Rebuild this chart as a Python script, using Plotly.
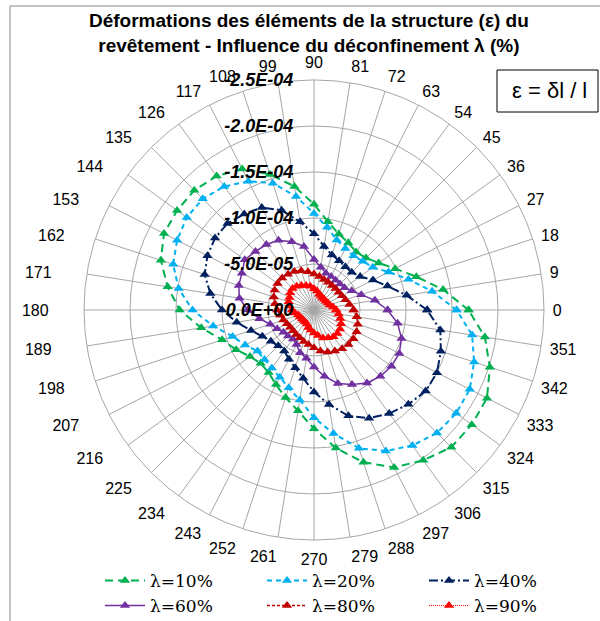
import math
import plotly.graph_objects as go

# Angular categories (degrees) and their labels
angles = [0, 9, 18, 27, 36, 45, 54, 63, 72, 81, 90, 99, 108, 117, 126, 135, 144, 153, 162, 171,
          180, 189, 198, 207, 216, 225, 234, 243, 252, 261, 270, 279, 288, 297, 306, 315, 324, 333, 342, 351]

# Strain values (epsilon) per angle, one list per deconfinement rate
eps_10 = [-168e-6, -142e-6, -117e-6, -99e-6, -87e-6, -80e-6, -78e-6, -82e-6, -87e-6, -97e-6,
          -115e-6, -136e-6, -155e-6, -172e-6, -180e-6, -184e-6, -184e-6, -183e-6, -175e-6, -161e-6,
          -146e-6, -124e-6, -105e-6, -95e-6, -86e-6, -82e-6, -84e-6, -91e-6, -100e-6, -111e-6,
          -129e-6, -152e-6, -174e-6, -192e-6, -202e-6, -211e-6, -212e-6, -211e-6, -201e-6, -188e-6]
eps_20 = [-155e-6, -130e-6, -108e-6, -91e-6, -79e-6, -75e-6, -73e-6, -75e-6, -80e-6, -91e-6,
          -105e-6, -125e-6, -145e-6, -157e-6, -166e-6, -171e-6, -171e-6, -167e-6, -161e-6, -149e-6,
          -132e-6, -111e-6, -93e-6, -84e-6, -76e-6, -76e-6, -78e-6, -82e-6, -89e-6, -99e-6,
          -117e-6, -136e-6, -158e-6, -172e-6, -182e-6, -189e-6, -191e-6, -190e-6, -183e-6, -174e-6]
eps_40 = [-123e-6, -102e-6, -84e-6, -72e-6, -62e-6, -58e-6, -58e-6, -60e-6, -63e-6, -70e-6,
          -83e-6, -97e-6, -114e-6, -125e-6, -129e-6, -133e-6, -133e-6, -130e-6, -125e-6, -114e-6,
          -100e-6, -85e-6, -72e-6, -63e-6, -58e-6, -55e-6, -55e-6, -60e-6, -66e-6, -75e-6,
          -89e-6, -104e-6, -121e-6, -132e-6, -139e-6, -145e-6, -150e-6, -150e-6, -145e-6, -139e-6]
eps_60 = [-80e-6, -67e-6, -54e-6, -46e-6, -41e-6, -40e-6, -40e-6, -41e-6, -42e-6, -47e-6,
          -55e-6, -70e-6, -78e-6, -85e-6, -88e-6, -90e-6, -93e-6, -88e-6, -86e-6, -82e-6,
          -72e-6, -60e-6, -50e-6, -45e-6, -41e-6, -40e-6, -39e-6, -42e-6, -49e-6, -53e-6,
          -62e-6, -73e-6, -84e-6, -91e-6, -98e-6, -102e-6, -104e-6, -104e-6, -100e-6, -92e-6]
eps_80 = [-43e-6, -39e-6, -36e-6, -34e-6, -33e-6, -33e-6, -33e-6, -34e-6, -35e-6, -37e-6,
          -39e-6, -42e-6, -45e-6, -47e-6, -48e-6, -49e-6, -49e-6, -48e-6, -46e-6, -43e-6,
          -40e-6, -37e-6, -35e-6, -33e-6, -32e-6, -32e-6, -33e-6, -34e-6, -36e-6, -38e-6,
          -41e-6, -45e-6, -48e-6, -50e-6, -52e-6, -53e-6, -53e-6, -52e-6, -50e-6, -47e-6]
eps_90 = [-24e-6, -21e-6, -18e-6, -17e-6, -16e-6, -16e-6, -16e-6, -17e-6, -18e-6, -21e-6,
          -23e-6, -26e-6, -28e-6, -30e-6, -32e-6, -33e-6, -32e-6, -30e-6, -29e-6, -27e-6,
          -24e-6, -21e-6, -18e-6, -17e-6, -16e-6, -16e-6, -16e-6, -17e-6, -20e-6, -22e-6,
          -25e-6, -28e-6, -32e-6, -34e-6, -36e-6, -36e-6, -35e-6, -33e-6, -30e-6, -27e-6]

series_names = ["λ=10%", "λ=20%", "λ=40%", "λ=60%", "λ=80%", "λ=90%"]

radial_ticks = [0, -5e-5, -1e-4, -1.5e-4, -2e-4, -2.5e-4]
radial_labels = ["0.0E+00", "-5.0E-05", "-1.0E-04", "-1.5E-04", "-2.0E-04", "-2.5E-04"]


# Angle labels; labels on the left half sit further out (as in the source chart)
def angle_label(a):
    c = math.cos(math.radians(a))
    pad = int(round(6 * c * c)) if c < -0.3 else 0
    return str(a) + "\u00a0" * pad


angle_labels = [angle_label(a) for a in angles]

styles = [
    ("#00B050", "8px,5px", 2, "legend"),
    ("#00B0F0", "5px,4px", 2, "legend"),
    ("#002060", "9px,3px,2px,3px", 2, "legend"),
    ("#7030A0", "solid", 1.5, "legend2"),
    ("#C00000", "3px,2px", 1.5, "legend2"),
    ("#FF0000", "1px,1px", 1, "legend2"),
]
all_series = [eps_10, eps_20, eps_40, eps_60, eps_80, eps_90]

fig = go.Figure()
for name, vals, (color, dash, w, leg) in zip(series_names, all_series, styles):
    fig.add_trace(go.Scatterpolar(
        r=vals + [vals[0]],
        theta=angles + [angles[0]],
        mode="lines+markers",
        name=name,
        legend=leg,
        line=dict(color=color, width=w, dash=dash),
        marker=dict(symbol="triangle-up", size=9, color=color),
    ))

W, H = 600, 621
cx, cy, R = 314, 310, 230
legend_font = dict(family="DejaVu Serif, Liberation Serif, serif", size=17, color="black")

fig.update_layout(
    width=W, height=H,
    margin=dict(l=0, r=0, t=0, b=0, autoexpand=False),
    paper_bgcolor="white",
    plot_bgcolor="white",
    font=dict(family="Arial, Liberation Sans, sans-serif", color="black"),
    polar=dict(
        domain=dict(x=[(cx - R) / W, (cx + R) / W], y=[1 - (cy + R) / H, 1 - (cy - R) / H]),
        bgcolor="white",
        angularaxis=dict(
            rotation=0, direction="counterclockwise",
            tickmode="array", tickvals=angles, ticktext=angle_labels,
            showgrid=True, gridcolor="#a6a6a6", gridwidth=1,
            showline=True, linecolor="#a6a6a6", linewidth=1,
            ticks="outside", ticklen=5, tickcolor="rgba(0,0,0,0)",
            tickfont=dict(size=16, color="black"),
        ),
        radialaxis=dict(
            range=[0, -2.5e-4],
            tickmode="array", tickvals=radial_ticks, ticktext=radial_labels,
            angle=90, tickangle=90, side="counterclockwise",
            showgrid=True, gridcolor="#a6a6a6", gridwidth=1,
            showline=False,
            ticks="outside", ticklen=14, tickcolor="rgba(0,0,0,0)",
            tickfont=dict(size=18, color="black", weight="bold", style="italic"),
        ),
    ),
    legend=dict(
        orientation="h", x=100 / W, xanchor="left", y=1 - 581 / H, yanchor="middle",
        itemwidth=40, entrywidth=107, entrywidthmode="pixels",
        font=legend_font, bgcolor="rgba(0,0,0,0)", itemclick=False,
    ),
    legend2=dict(
        orientation="h", x=100 / W, xanchor="left", y=1 - 606 / H, yanchor="middle",
        itemwidth=40, entrywidth=107, entrywidthmode="pixels",
        font=legend_font, bgcolor="rgba(0,0,0,0)", itemclick=False,
    ),
    shapes=[
        dict(type="rect", xref="paper", yref="paper",
             x0=10 / W, x1=1.02, y0=-0.02, y1=1 - 6 / H,
             line=dict(color="#b0b0b0", width=1.5), fillcolor="rgba(0,0,0,0)", layer="below"),
        dict(type="rect", xref="paper", yref="paper",
             x0=497 / W, x1=598 / W, y0=1 - 112 / H, y1=1 - 70 / H,
             line=dict(color="black", width=1), fillcolor="white"),
    ],
    annotations=[
        dict(text="<b>Déformations des éléments de la structure (ε) du<br>revêtement - Influence du déconfinement λ (%)</b>",
             xref="paper", yref="paper", x=309 / W, y=1 - 33 / H, xanchor="center", yanchor="middle",
             showarrow=False, align="center",
             font=dict(size=19, family="Arial, Liberation Sans, sans-serif", color="black")),
        dict(text="ε = δl / l", xref="paper", yref="paper",
             x=549 / W, y=1 - 91 / H, xanchor="center", yanchor="middle",
             showarrow=False, font=dict(size=22, family="Arial, Liberation Sans, sans-serif", color="black")),
    ],
)

fig.write_html("out.html", config={"displayModeBar": False},
               post_script="document.body.style.margin='0';")
